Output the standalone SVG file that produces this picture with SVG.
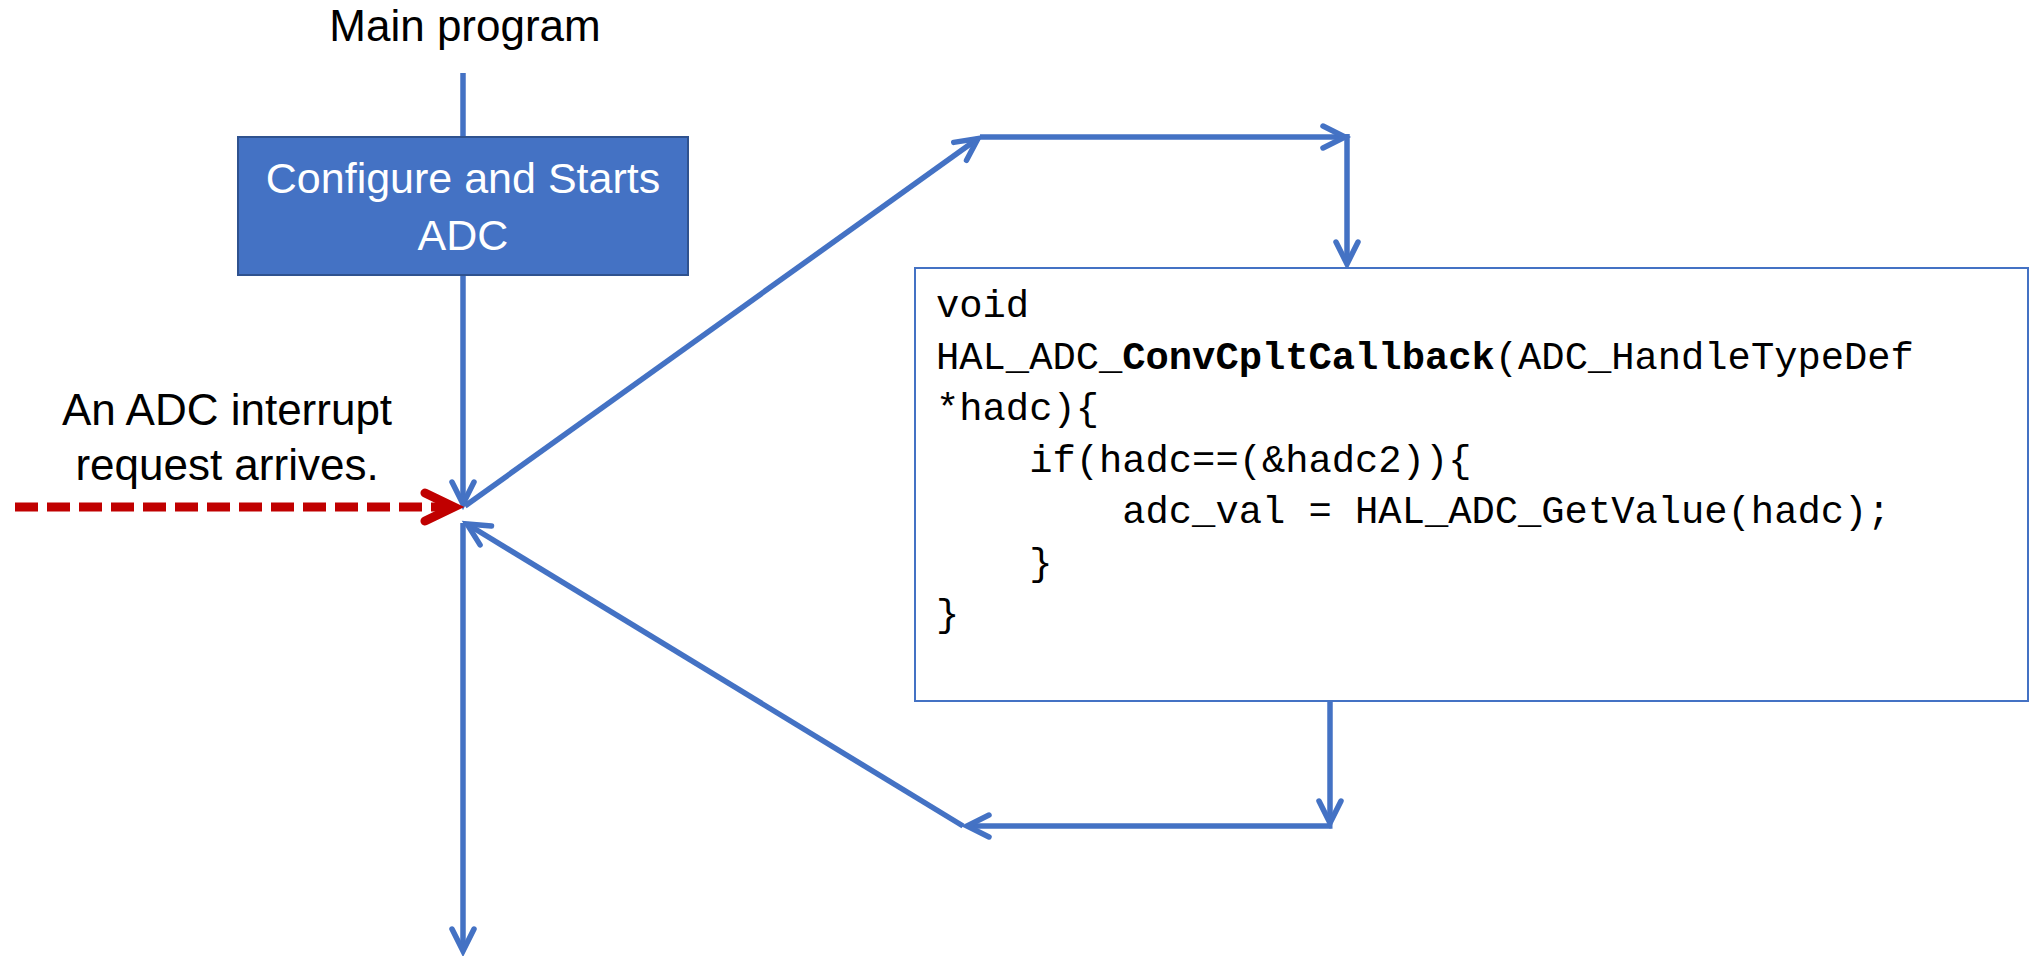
<svg xmlns="http://www.w3.org/2000/svg" width="2034" height="956" viewBox="0 0 2034 956">
  <style>
    .label { font-family: "Liberation Sans", Arial, sans-serif; font-size: 44px; fill: #000; text-anchor: middle; }
    .boxlabel { font-family: "Liberation Sans", Arial, sans-serif; font-size: 43px; fill: #fff; text-anchor: middle; }
    .code { font-family: "Liberation Mono", "DejaVu Sans Mono", monospace; font-size: 38.8px; fill: #000; white-space: pre; }
    .flow { fill: none; stroke: #4472C4; stroke-width: 5.5; }
    .flow-arrow { marker-end: url(#blueHead); }
    .irq { fill: none; stroke: #C00000; stroke-width: 9; stroke-dasharray: 23 9; marker-end: url(#redHead); }
  </style>
  <defs>
    <marker id="blueHead" markerUnits="userSpaceOnUse" markerWidth="40" markerHeight="40" viewBox="-30 -20 40 40" refX="0" refY="0" orient="auto" overflow="visible">
      <path d="M-22,-11 L0,0 L-22,11" fill="none" stroke="#4472C4" stroke-width="5.5" stroke-linecap="round" stroke-linejoin="miter"/>
    </marker>
    <marker id="redHead" markerUnits="userSpaceOnUse" markerWidth="50" markerHeight="50" viewBox="-40 -25 50 50" refX="0" refY="0" orient="auto" overflow="visible">
      <path d="M-29,-14 L0,0 L-29,14" fill="none" stroke="#C00000" stroke-width="9" stroke-linecap="round" stroke-linejoin="miter"/>
    </marker>
  </defs>

  <rect width="2034" height="956" fill="#fff"/>

  <!-- connectors -->
  <g id="connectors">
    <line class="flow" x1="463" y1="73" x2="463" y2="137"/>
    <line class="flow flow-arrow" x1="463" y1="275" x2="463" y2="504"/>
    <line class="irq" x1="15" y1="507" x2="454" y2="507"/>
    <line class="flow flow-arrow" x1="465" y1="506" x2="978" y2="138.5"/>
    <line class="flow flow-arrow" x1="980" y1="137" x2="1345" y2="137"/>
    <line class="flow flow-arrow" x1="1347" y1="134" x2="1347" y2="264"/>
    <line class="flow flow-arrow" x1="1330" y1="695" x2="1330" y2="823"/>
    <line class="flow flow-arrow" x1="1332.5" y1="826" x2="967" y2="826"/>
    <line class="flow flow-arrow" x1="963" y1="826" x2="467" y2="524"/>
    <line class="flow flow-arrow" x1="463" y1="523" x2="463" y2="951"/>
  </g>

  <!-- main program title -->
  <g id="main-program">
    <text class="label" x="465" y="41">Main program</text>
  </g>

  <!-- ADC configuration step -->
  <g id="configure-adc">
    <rect x="238" y="137" width="450" height="138" fill="#4472C4" stroke="#2F528F" stroke-width="2"/>
    <text class="boxlabel" x="463" y="193">Configure and Starts</text>
    <text class="boxlabel" x="463" y="250">ADC</text>
  </g>

  <!-- interrupt request label -->
  <g id="interrupt-label">
    <text class="label" x="227" y="425">An ADC interrupt</text>
    <text class="label" x="227" y="480">request arrives.</text>
  </g>

  <!-- conversion complete callback -->
  <g id="callback">
    <rect x="915" y="268" width="1113" height="433" fill="#fff" stroke="#4472C4" stroke-width="2"/>
    <text class="code" x="936" y="317">void</text>
    <text class="code" x="936" y="369">HAL_ADC_<tspan font-weight="bold">ConvCpltCallback</tspan>(ADC_HandleTypeDef</text>
    <text class="code" x="936" y="420">*hadc){</text>
    <text class="code" x="936" y="472">    if(hadc==(&amp;hadc2)){</text>
    <text class="code" x="936" y="523">        adc_val = HAL_ADC_GetValue(hadc);</text>
    <text class="code" x="936" y="575">    }</text>
    <text class="code" x="936" y="626">}</text>
  </g>
</svg>
